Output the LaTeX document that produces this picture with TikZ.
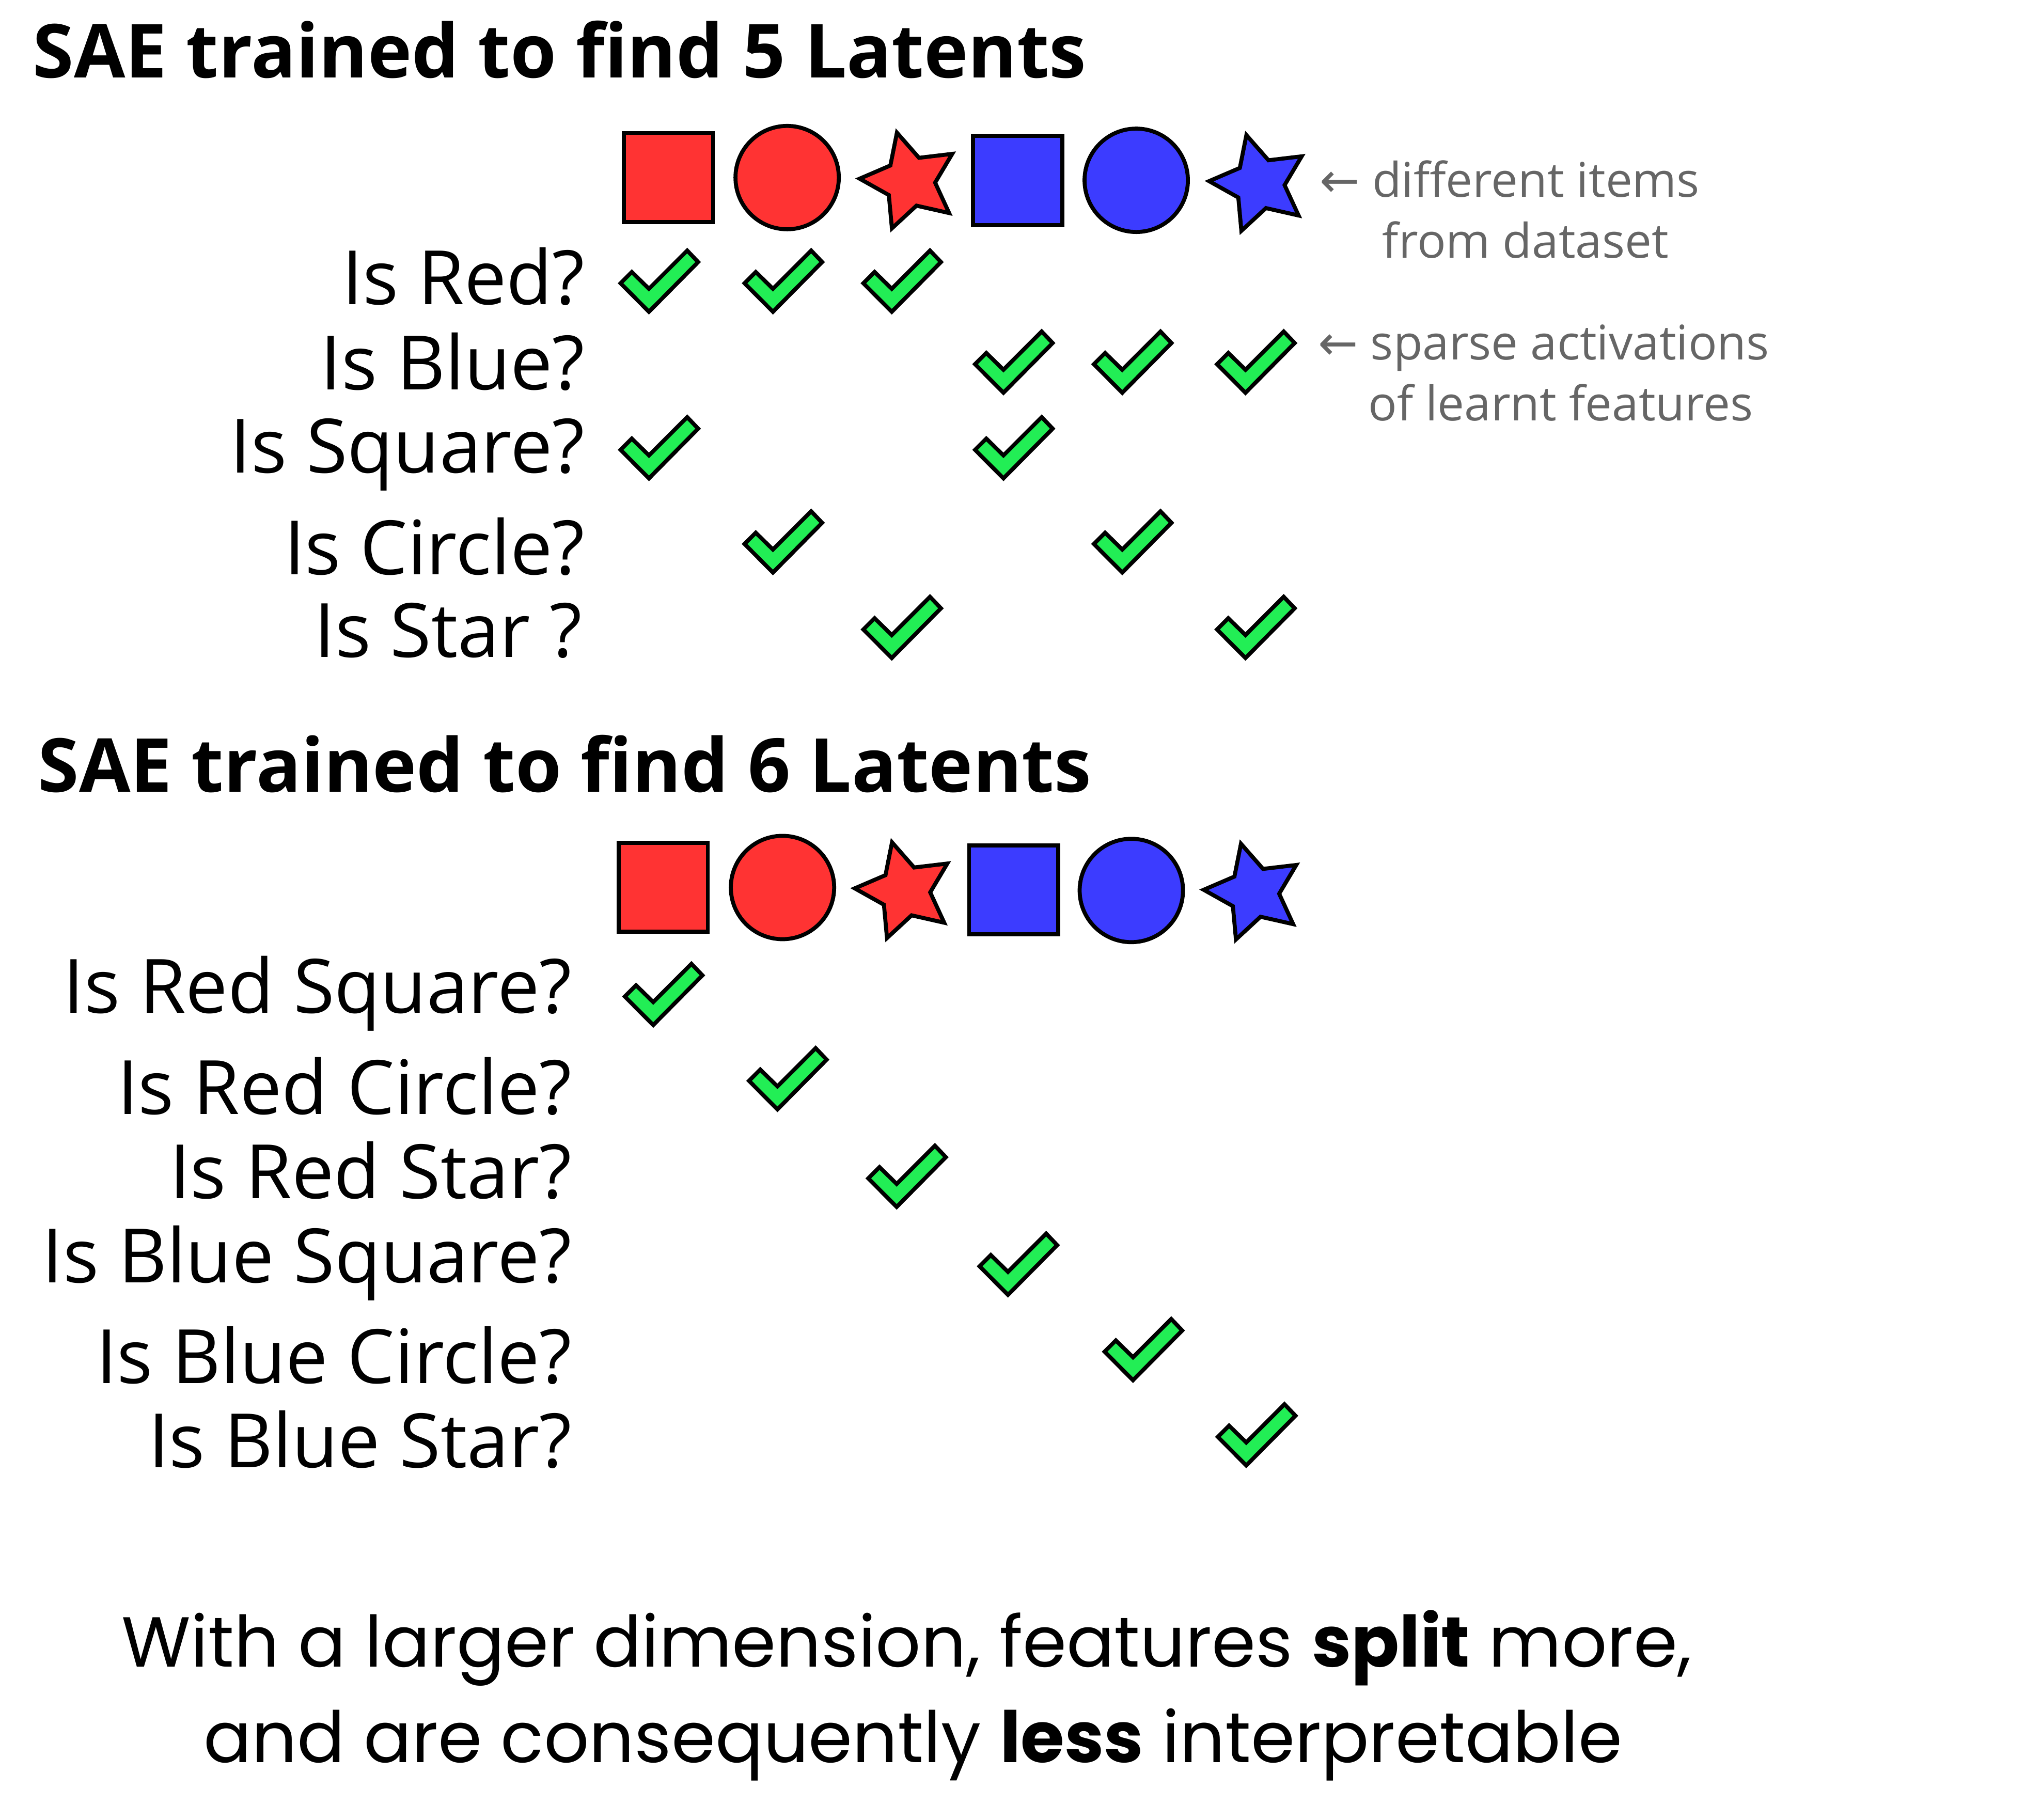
\documentclass[tikz,border=0pt]{standalone}
\usepackage{fontspec}
\setmainfont{Open Sans}
\newfontfamily\arrowfont{DejaVu Sans}
\newfontfamily\handfont{Poppins}
\usetikzlibrary{shapes.geometric}
\definecolor{itemred}{HTML}{FF3333}
\definecolor{itemblue}{HTML}{3C3CFF}
\definecolor{tickgreen}{HTML}{22EE55}
\definecolor{notegrey}{HTML}{666666}
\tikzset{
  item/.style={draw=black, line width=2.2pt, inner sep=0pt, outer sep=0pt},
  sqitem/.style={item, rectangle, minimum size=1.725cm},
  ciritem/.style={item, circle, minimum size=2cm},
  staritem/.style={item, star, star points=5, star point ratio=2.0, minimum size=1.95cm, rotate=15},
  heading/.style={font=\fontsize{41}{49}\selectfont\bfseries, anchor=base west, inner sep=0pt},
  question/.style={font=\fontsize{41.3}{49}\selectfont, anchor=base east, inner sep=0pt},
  note/.style={font=\fontsize{26.3}{33}\selectfont, text=notegrey, anchor=base west, inner sep=0pt},
  moral/.style={font=\handfont\fontsize{39}{47}\selectfont, anchor=base, inner sep=0pt},
  greencheck/.pic={\draw[line width=2.2pt, fill=tickgreen] (-8,23.7) -- (-30,1.6) -- (-21.3,-7.1) -- (-8,5.9) -- (21.6,-23.7) -- (30.1,-14.8) -- cycle;}
}
\begin{document}
\begin{tikzpicture}[x=0.025cm, y=-0.025cm]
\useasboundingbox (0,0) rectangle (1568,1409);
% 5 latents
\node[heading] (title5) at (25.3,60.3) {SAE trained to find 5 Latents};
\foreach \s/\c/\x/\y [count=\i] in {sqitem/itemred/517.5/137.5, ciritem/itemred/609.5/137.5, staritem/itemred/704.6/140.4, sqitem/itemblue/788/139.7, ciritem/itemblue/879.8/139.6, staritem/itemblue/975.2/142.3} { \node[\s, fill=\c] (itemA\i) at (\x,\y) {}; }
\node[note] (noteA1) at (1021.7,152.7) {{\arrowfont ←} different items};
\node[note] (noteA2) at (1070.2,199.9) {from dataset};
\node[note] (noteB1) at (1020.4,278.4) {{\arrowfont ←} sparse activations};
\node[note] (noteB2) at (1059.2,325.6) {of learnt features};
\foreach \t/\x/\y [count=\i] in {Is Red?/453/235.7, Is Blue?/453/301.6, Is Square?/453/366, Is Circle?/453/445, Is Star ?/451/509} { \node[question] (askA\i) at (\x,\y) {\t}; }
\foreach \x/\y in {510.5/217.7, 606.5/217.7, 698.5/217.7, 785/280.4, 877/280.4, 972.4/280.4, 510.5/346.7, 785/346.7, 606.5/419.6, 877/419.6, 698.5/485.8, 972.4/485.8} { \pic at (\x,\y) {greencheck}; }
% 6 latents
\node[heading] (title6) at (29.2,613.1) {SAE trained to find 6 Latents};
\foreach \s/\c/\x/\y [count=\i] in {sqitem/itemred/513.5/687, ciritem/itemred/605.9/687.2, staritem/itemred/700.8/689.9, sqitem/itemblue/784.9/689, ciritem/itemblue/876/689.5, staritem/itemblue/971/691} { \node[\s, fill=\c] (itemB\i) at (\x,\y) {}; }
\foreach \t/\y [count=\i] in {Is Red Square?/784.4, Is Red Circle?/862.7, Is Red Star?/928, Is Blue Square?/993.2, Is Blue Circle?/1071.2, Is Blue Star?/1136.3} { \node[question] (askB\i) at (443,\y) {\t}; }
\foreach \x/\y in {513.8/770, 610/835.3, 702.3/910.8, 788.5/978.9, 885.3/1045, 973/1111} { \pic at (\x,\y) {greencheck}; }
% conclusion
\node[moral] (moral1) at (702,1290.7) {With a larger dimension, features \textbf{split} more,};
\node[moral] (moral2) at (707,1364.7) {and are consequently \textbf{less} interpretable};
\end{tikzpicture}
\end{document}
